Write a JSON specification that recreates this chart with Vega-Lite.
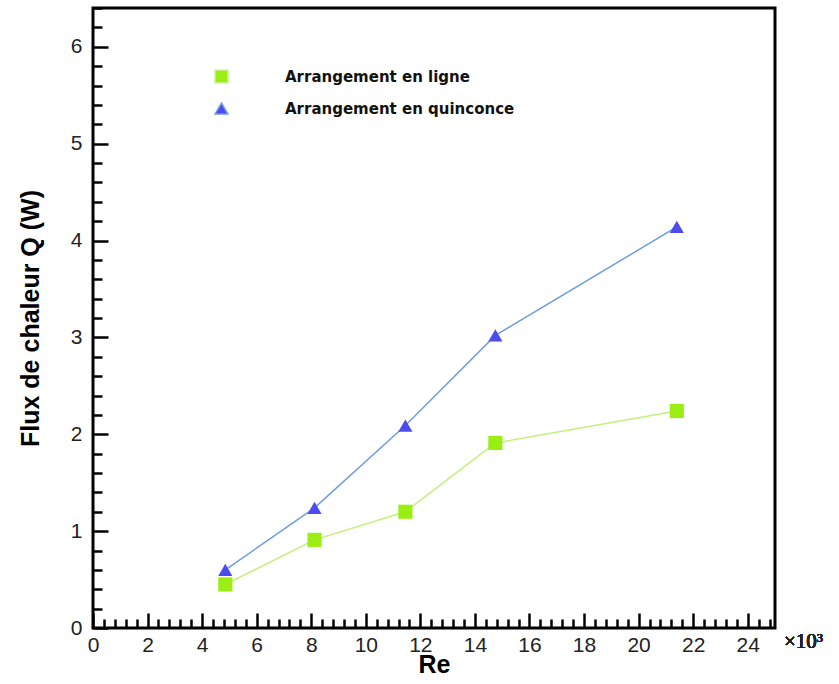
{
  "$schema": "https://vega.github.io/schema/vega-lite/v6.json",
  "autosize": "none",
  "width": 682,
  "height": 620,
  "padding": {"left": 93, "top": 8, "right": 64, "bottom": 56},
  "background": "white",
  "config": {
    "view": {"stroke": "black", "strokeWidth": 3},
    "axis": {"grid": false, "domain": false, "labelFont": "Liberation Sans", "labelFontSize": 21, "labelColor": "#222", "tickColor": "black", "tickWidth": 2.5, "titleFont": "Liberation Sans", "titleFontSize": 25, "titleFontWeight": "bold", "titleColor": "black"},
    "legend": {"title": null, "orient": "none", "legendX": 121, "legendY": 61, "padding": 0,
      "symbolSize": 160, "labelOffset": 56, "rowPadding": 14,
      "labelFont": "DejaVu Sans", "labelFontSize": 15, "labelFontWeight": "bold", "labelColor": "#111", "labelLimit": 400}
  },
  "data": {"values": [
    {"series": "Arrangement en ligne", "Re": 4.85, "Q": 0.45},
    {"series": "Arrangement en ligne", "Re": 8.12, "Q": 0.91},
    {"series": "Arrangement en ligne", "Re": 11.45, "Q": 1.2},
    {"series": "Arrangement en ligne", "Re": 14.75, "Q": 1.91},
    {"series": "Arrangement en ligne", "Re": 21.4, "Q": 2.24},
    {"series": "Arrangement en quinconce", "Re": 4.85, "Q": 0.6},
    {"series": "Arrangement en quinconce", "Re": 8.12, "Q": 1.24},
    {"series": "Arrangement en quinconce", "Re": 11.45, "Q": 2.09},
    {"series": "Arrangement en quinconce", "Re": 14.75, "Q": 3.02},
    {"series": "Arrangement en quinconce", "Re": 21.4, "Q": 4.14}
  ]},
  "encoding": {
    "x": {"field": "Re", "type": "quantitative", "scale": {"domain": [0, 25], "nice": false, "zero": false},
      "axis": {"title": "Re", "titlePadding": -9, "labelFontSize": 21,
        "values": [0,0.4,0.8,1.2,1.6,2,2.4,2.8,3.2,3.6,4,4.4,4.8,5.2,5.6,6,6.4,6.8,7.2,7.6,8,8.4,8.8,9.2,9.6,10,10.4,10.8,11.2,11.6,12,12.4,12.8,13.2,13.6,14,14.4,14.8,15.2,15.6,16,16.4,16.8,17.2,17.6,18,18.4,18.8,19.2,19.6,20,20.4,20.8,21.2,21.6,22,22.4,22.8,23.2,23.6,24,24.4,24.8],
        "labelExpr": "abs(datum.value/2 - round(datum.value/2)) < 0.001 ? format(datum.value, 'd') : ''",
        "tickSize": {"condition": {"test": "abs(datum.value/2 - round(datum.value/2)) < 0.001", "value": -15}, "value": -9},
        "labelPadding": 21, "labelFlush": false, "labelOverlap": false}},
    "y": {"field": "Q", "type": "quantitative", "scale": {"domain": [0, 6.4], "nice": false},
      "axis": {"title": "Flux de chaleur Q (W)", "titlePadding": 27, "labelFontSize": 21,
        "values": [0,0.2,0.4,0.6,0.8,1,1.2,1.4,1.6,1.8,2,2.2,2.4,2.6,2.8,3,3.2,3.4,3.6,3.8,4,4.2,4.4,4.6,4.8,5,5.2,5.4,5.6,5.8,6,6.2,6.4],
        "labelExpr": "abs(datum.value - round(datum.value)) < 0.001 ? format(datum.value, 'd') : ''",
        "tickSize": {"condition": {"test": "abs(datum.value - round(datum.value)) < 0.001", "value": -15}, "value": -9},
        "labelPadding": 26, "labelFlush": false, "labelOverlap": false}}
  },
  "layer": [
    {
      "mark": {"type": "line", "strokeWidth": 1.5},
      "encoding": {
        "stroke": {"field": "series", "type": "nominal", "scale": {"domain": ["Arrangement en ligne", "Arrangement en quinconce"], "range": ["#c2f07a", "#6f9be3"]}}
      }
    },
    {
      "mark": {"type": "point", "filled": true, "opacity": 1, "size": 200},
      "encoding": {
        "fill": {"field": "series", "type": "nominal", "scale": {"domain": ["Arrangement en ligne", "Arrangement en quinconce"], "range": ["#9bee14", "#4b4bf0"]}},
        "shape": {"field": "series", "type": "nominal", "scale": {"domain": ["Arrangement en ligne", "Arrangement en quinconce"], "range": ["square", "triangle-up"]}}
      }
    },
    {
      "mark": {"type": "text", "text": "×10³", "font": "Liberation Serif", "fontSize": 21, "align": "left", "baseline": "middle", "dx": 9, "dy": 14, "color": "#222", "clip": false},
      "encoding": {"x": {"datum": 25}, "y": {"datum": 0}}
    }
  ]
}
